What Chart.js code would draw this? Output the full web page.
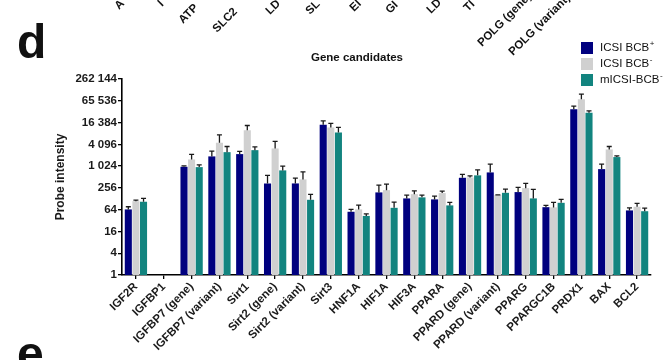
<!DOCTYPE html>
<html>
<head>
<meta charset="utf-8">
<script src="https://cdn.jsdelivr.net/npm/chart.js@4.4.1/dist/chart.umd.min.js"></script>
<style>
  html, body { margin: 0; padding: 0; background: #fff; }
  canvas { display: block; }
</style>
</head>
<body>
<canvas id="chart" width="668" height="360"></canvas>
<script>
// Gene candidates – probe intensity per embryo group (mean, upper error = SEM)
const categories = [
  'IGF2R', 'IGFBP1', 'IGFBP7 (gene)', 'IGFBP7 (variant)', 'Sirt1', 'Sirt2 (gene)',
  'Sirt2 (variant)', 'Sirt3', 'HNF1A', 'HIF1A', 'HIF3A', 'PPARA', 'PPARD (gene)',
  'PPARD (variant)', 'PPARG', 'PPARGC1B', 'PRDX1', 'BAX', 'BCL2'
];

const seriesNames = ['ICSI BCB\u207A', 'ICSI BCB\u207B', 'mICSI-BCB\u207B'];

const icsiBcbPos     = [65, null, 980, 1900, 2200, 340, 340, 14200, 56, 192, 131, 123, 487, 685, 196, 75, 38400, 846, 61];
const icsiBcbPosErr  = [12, null, 65, 760, 410, 228, 138, 4100, 9, 114, 31, 29, 118, 475, 68, 9, 8000, 314, 11];

const icsiBcbNeg     = [110, null, 1565, 4500, 10100, 3150, 440, 12000, 65, 222, 172, 184, 498, 162, 252, 74, 72700, 2960, 77];
const icsiBcbNegErr  = [8, null, 585, 2980, 3500, 1790, 273, 3500, 21, 104, 41, 25, 55, 3, 88, 28, 26800, 610, 19];

const micsiBcbNeg    = [106, null, 960, 2490, 2830, 780, 120, 8700, 43, 72, 140, 84, 568, 187, 131, 99, 30400, 1820, 58];
const micsiBcbNegErr = [25, null, 150, 1080, 660, 244, 49, 3300, 6, 32, 22, 18, 241, 50, 101, 24, 4000, 150, 13];

const yTickValues = [1, 4, 16, 64, 256, 1024, 4096, 16384, 65536, 262144];

// Axis labels of the panel above, cut off by the top edge
const upperPanelLabels = ['A', 'I', 'ATP', 'SLC2', 'LD', 'SL', 'EI', 'GI', 'LD', 'TI', 'POLG (gene)', 'POLG (variant)'];

const colors = ['#00007f', '#d0d0d0', '#12847f'];
const FONT = "'Liberation Sans', Arial, Helvetica, sans-serif";

function spaced(v) {
  return String(v).replace(/\B(?=(\d{3})+(?!\d))/g, ' ');
}

const errorBars = {
  id: 'errorBars',
  afterDatasetsDraw(chart) {
    const ctx = chart.ctx;
    const y = chart.scales.y;
    ctx.save();
    ctx.strokeStyle = '#1a1a1a';
    ctx.lineWidth = 1.3;
    chart.data.datasets.forEach((ds, di) => {
      const meta = chart.getDatasetMeta(di);
      ds.data.forEach((v, i) => {
        const e = ds.errors[i];
        if (v == null || e == null) return;
        const bar = meta.data[i];
        const x = bar.x;
        const y0 = y.getPixelForValue(v);
        const y1 = y.getPixelForValue(v + e);
        ctx.beginPath();
        ctx.moveTo(x, y0);
        ctx.lineTo(x, y1);
        ctx.moveTo(x - 2.5, y1);
        ctx.lineTo(x + 2.5, y1);
        ctx.stroke();
      });
    });
    ctx.restore();
  }
};

const decorations = {
  id: 'decorations',
  afterDraw(chart) {
    const ctx = chart.ctx;
    ctx.save();
    ctx.fillStyle = '#111';

    // chart title
    ctx.font = `bold 11.5px ${FONT}`;
    ctx.textAlign = 'center';
    ctx.textBaseline = 'alphabetic';
    ctx.fillText('Gene candidates', 357, 61);

    // legend
    ctx.textAlign = 'left';
    ctx.textBaseline = 'middle';
    chart.data.datasets.forEach((ds, i) => {
      const ty = 48 + i * 16;
      ctx.fillStyle = ds.backgroundColor;
      ctx.fillRect(581, ty - 6, 12, 12);
      ctx.fillStyle = '#111';
      const label = ds.label;
      const last = label.slice(-1);
      const base = label.slice(0, -1);
      ctx.font = `11.5px ${FONT}`;
      ctx.fillText(base, 600, ty);
      const w = ctx.measureText(base).width;
      ctx.font = `8px ${FONT}`;
      ctx.fillText(last === '\u207A' ? '+' : '-', 600 + w + 0.5, ty - 4);
    });

    // panel letters
    ctx.font = `bold 48px ${FONT}`;
    ctx.textAlign = 'left';
    ctx.textBaseline = 'alphabetic';
    ctx.fillText('d', 17, 58);
    ctx.fillText('e', 17, 370);

    // cut-off axis labels of the panel above
    const starts = [[119, 10], [162, 7], [183, 24], [217, 33], [270, 15], [310, 15], [354, 12], [390, 14], [431, 14], [468, 12], [482, 47], [513, 56]];
    ctx.font = `bold 11.5px ${FONT}`;
    upperPanelLabels.forEach((t, i) => {
      ctx.save();
      ctx.translate(starts[i][0], starts[i][1]);
      ctx.rotate(-Math.PI / 4);
      ctx.fillText(t, 0, 0);
      ctx.restore();
    });
    ctx.restore();
  }
};

new Chart(document.getElementById('chart'), {
  type: 'bar',
  data: {
    labels: categories,
    datasets: [
      { label: seriesNames[0], data: icsiBcbPos, errors: icsiBcbPosErr, backgroundColor: colors[0] },
      { label: seriesNames[1], data: icsiBcbNeg, errors: icsiBcbNegErr, backgroundColor: colors[1] },
      { label: seriesNames[2], data: micsiBcbNeg, errors: micsiBcbNegErr, backgroundColor: colors[2] }
    ]
  },
  options: {
    responsive: false,
    animation: false,
    devicePixelRatio: 1,
    categoryPercentage: 0.82,
    barPercentage: 0.93,
    layout: { padding: { top: 79, right: 17, bottom: 0, left: 50 } },
    plugins: {
      legend: { display: false },
      title: { display: false },
      tooltip: { enabled: false }
    },
    scales: {
      x: {
        type: 'category',
        offset: true,
        grid: {
          display: true, drawOnChartArea: false, drawTicks: true, offset: false,
          tickLength: 4, color: '#000', tickColor: '#000', lineWidth: 1.3
        },
        border: { display: true, color: '#000', width: 1.6 },
        ticks: {
          autoSkip: false, maxRotation: 45, minRotation: 45, padding: 1,
          color: '#1a1a1a', font: { family: FONT, size: 11.5, weight: 'bold' }
        },
        afterFit(s) { s.height = 85; }
      },
      y: {
        type: 'logarithmic',
        min: 1,
        max: 262144,
        grid: {
          display: true, drawOnChartArea: false, drawTicks: true,
          tickLength: 4, color: '#000', tickColor: '#000', lineWidth: 1.3
        },
        border: { display: true, color: '#000', width: 1.6 },
        afterBuildTicks(s) { s.ticks = yTickValues.map(v => ({ value: v })); },
        ticks: {
          autoSkip: false, padding: 1, color: '#1a1a1a',
          font: { family: FONT, size: 11.5, weight: 'bold' },
          callback: (v) => spaced(v)
        },
        title: {
          display: true, text: 'Probe intensity', color: '#1a1a1a',
          font: { family: FONT, size: 12, weight: 'bold' },
          padding: { top: 3, bottom: 0 }
        },
        afterFit(s) { s.width = 72; }
      }
    }
  },
  plugins: [errorBars, decorations]
});
</script>
</body>
</html>
